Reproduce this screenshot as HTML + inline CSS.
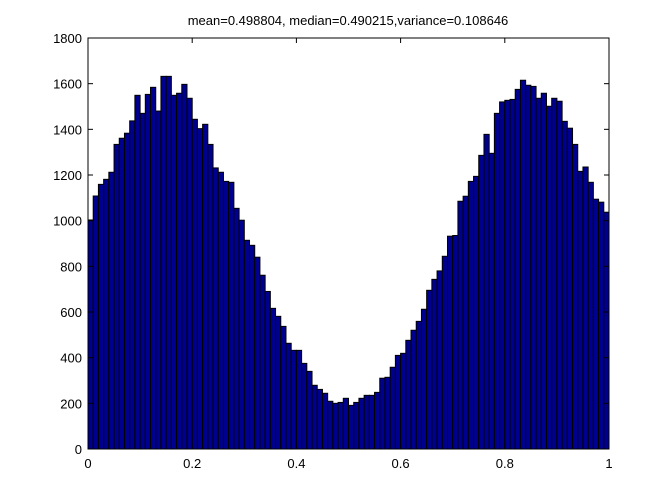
<!DOCTYPE html>
<html><head><meta charset="utf-8"><style>
html,body{margin:0;padding:0;background:#fff;}
svg{display:block;font-family:"Liberation Sans",sans-serif;}
</style></head><body>
<svg id="chart" width="672" height="504">
<rect x="0" y="0" width="672" height="504" fill="#fff"/>
<text x="348" y="25" text-anchor="middle" font-size="13">mean=0.498804, median=0.490215,variance=0.108646</text>
<g id="bars"></g>
<g id="axes"></g>
</svg>
<script>
const counts = [1003,1108,1159,1181,1212,1334,1361,1383,1437,1549,1470,1553,1584,1480,1632,1632,1549,1558,1597,1536,1444,1403,1422,1334,1231,1212,1172,1168,1054,1002,914,892,840,761,690,616,581,537,463,432,432,375,340,279,261,244,209,200,204,222,191,204,222,235,235,248,310,314,358,410,419,476,520,559,612,695,743,780,844,932,935,1085,1107,1172,1194,1286,1378,1295,1470,1520,1527,1531,1575,1615,1593,1588,1536,1558,1501,1536,1523,1435,1405,1334,1216,1235,1168,1094,1081,1037];
const yTicks = [0,200,400,600,800,1000,1200,1400,1600,1800];
const xTicks = [0,0.2,0.4,0.6,0.8,1];
const xTickLabels = ["0","0.2","0.4","0.6","0.8","1"];
const L=88,R=609,T=38,B=449,yMax=1800;
const NS="http://www.w3.org/2000/svg";
const xs=v=>L+(R-L)*v;
const ys=v=>B-(B-T)*v/yMax;
const bars=document.getElementById('bars');
const n=counts.length,w=1/n;
counts.forEach((c,i)=>{
  const r=document.createElementNS(NS,'rect');
  const x0=xs(i*w),x1=xs((i+1)*w);
  r.setAttribute('x',x0);r.setAttribute('y',ys(c));
  r.setAttribute('width',x1-x0);r.setAttribute('height',ys(0)-ys(c));
  r.setAttribute('fill','#00008f');r.setAttribute('stroke','#000');r.setAttribute('stroke-width','1');
  
  
  bars.appendChild(r);
});
const ax=document.getElementById('axes');
const box=document.createElementNS(NS,'rect');
box.setAttribute('x',L);box.setAttribute('y',T);box.setAttribute('width',R-L);box.setAttribute('height',B-T);
box.setAttribute('fill','none');box.setAttribute('stroke','#000');


ax.appendChild(box);
function line(x1,y1,x2,y2,name){const l=document.createElementNS(NS,'line');
  l.setAttribute('x1',x1);l.setAttribute('y1',y1);l.setAttribute('x2',x2);l.setAttribute('y2',y2);l.setAttribute('stroke','#000');
  
  
  ax.appendChild(l);}
function text(x,y,s,anchor,name){const t=document.createElementNS(NS,'text');
  t.setAttribute('x',x);t.setAttribute('y',y);t.setAttribute('text-anchor',anchor);t.setAttribute('font-size','13');t.textContent=s;
  
  
  ax.appendChild(t);}
yTicks.forEach(v=>{const y=ys(v);
  line(L,y,L+5,y,'y-tick');line(R,y,R-5,y,'y-tick-right');
  text(L-6,y+5,String(v),'end','y-tick-label');});
xTicks.forEach((v,i)=>{const x=xs(v);
  line(x,B,x,B-5,'x-tick');line(x,T,x,T+5,'x-tick-top');
  text(x,B+19,xTickLabels[i],'middle','x-tick-label');});
</script>
</body></html>
